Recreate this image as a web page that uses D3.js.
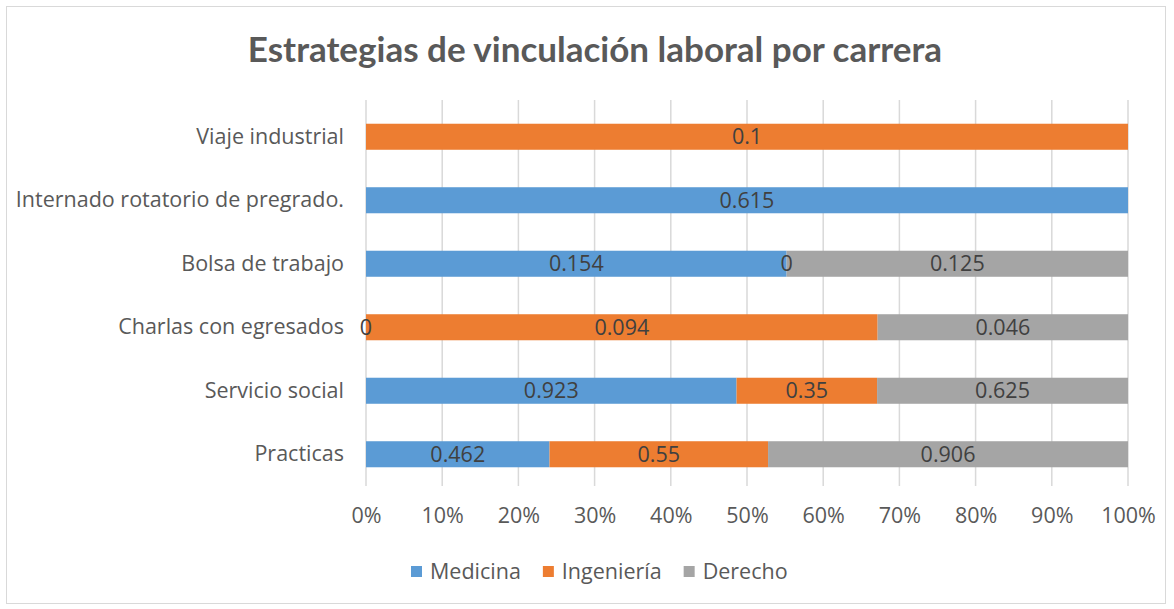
<!DOCTYPE html>
<html><head><meta charset="utf-8">
<script src="https://cdn.jsdelivr.net/npm/d3@7"></script>
<style>body{margin:0;background:#fff;} text{font-family:"Open Sans",sans-serif;}</style>
</head><body><svg id="c" width="1174" height="609"></svg>
<script>
const categories = ["Viaje industrial","Internado rotatorio de pregrado.","Bolsa de trabajo","Charlas con egresados","Servicio social","Practicas"];
const seriesNames = ["Medicina","Ingeniería","Derecho"];
const medicina = [null, 0.615, 0.154, 0, 0.923, 0.462];
const ingenieria = [0.1, null, 0, 0.094, 0.35, 0.55];
const derecho = [null, null, 0.125, 0.046, 0.625, 0.906];
const colors = ["#5B9BD5","#ED7D31","#A5A5A5"];
const tickValues = [0,0.1,0.2,0.3,0.4,0.5,0.6,0.7,0.8,0.9,1];
const title = "Estrategias de vinculación laboral por carrera";

const FS = 21.5;
const svg = d3.select("#c");
svg.append("rect").attr("x",6.5).attr("y",6.5).attr("width",1159).attr("height",597)
  .attr("fill","#fff").attr("stroke","#d9d9d9");

const m = {left:366, right:1128, top:105, bottom:486};
const x = d3.scaleLinear().domain([0,1]).range([m.left,m.right]);
const y = d3.scaleBand().domain(categories).range([m.top,m.bottom]).paddingInner(0.59).paddingOuter(0.295);

svg.append("text").attr("x",595).attr("y",62).attr("text-anchor","middle")
  .style("font-family","Lato").attr("font-size",35).attr("font-weight","bold").attr("fill","#595959").text(title);

// gridlines
svg.append("g").selectAll("line").data(tickValues).join("line")
  .attr("x1",d=>x(d)).attr("x2",d=>x(d)).attr("y1",m.top-5).attr("y2",m.bottom)
  .attr("stroke","#d9d9d9").attr("stroke-width",1.5);

const seriesVals = [medicina, ingenieria, derecho];
const rows = categories.map((c,i)=>{
  const o={cat:c};
  seriesNames.forEach((s,j)=>o[s]=seriesVals[j][i]);
  return o;
});
const stack = d3.stack().keys(seriesNames).value((d,k)=>d[k]==null?0:d[k]).offset(d3.stackOffsetExpand);
const stacked = stack(rows);

stacked.forEach((layer,j)=>{
  svg.append("g").selectAll("rect").data(layer).join("rect")
    .attr("x",d=>x(d[0])).attr("width",d=>Math.max(0,x(d[1])-x(d[0])))
    .attr("y",d=>y(d.data.cat)).attr("height",y.bandwidth())
    .attr("fill",colors[j]);
});
stacked.forEach((layer,j)=>{
  svg.append("g").selectAll("text").data(layer.filter(d=>d.data[seriesNames[j]]!=null)).join("text")
    .attr("x",d=>x((d[0]+d[1])/2)).attr("y",d=>y(d.data.cat)+y.bandwidth()/2)
    .attr("dy","0.36em").attr("text-anchor","middle").attr("font-size",FS).attr("fill","#404040")
    .text(d=>d.data[seriesNames[j]]);
});

// y axis
const ya = d3.axisLeft(y).tickSize(0).tickPadding(22);
const yg = svg.append("g").attr("transform",`translate(${m.left},0)`).call(ya);
yg.select(".domain").remove();
yg.selectAll("text").attr("font-size",FS).attr("fill","#595959").style("font-family","Open Sans");

// x axis
const xa = d3.axisBottom(x).tickValues(tickValues).tickSize(0).tickPadding(22).tickFormat(d3.format(".0%"));
const xg = svg.append("g").attr("transform",`translate(0,${m.bottom})`).call(xa);
xg.select(".domain").remove();
xg.selectAll("text").attr("font-size",FS).attr("fill","#595959").style("font-family","Open Sans");

// legend
const leg = svg.append("g");
let lx = 411;
seriesNames.forEach((s,j)=>{
  leg.append("rect").attr("x",lx).attr("y",566).attr("width",11).attr("height",11).attr("fill",colors[j]);
  const t = leg.append("text").attr("x",lx+19).attr("y",571).attr("dy","0.36em")
    .attr("font-size",FS).attr("fill","#595959").text(s);
  lx += 19 + t.node().getComputedTextLength() + 22;
});
</script></body></html>
